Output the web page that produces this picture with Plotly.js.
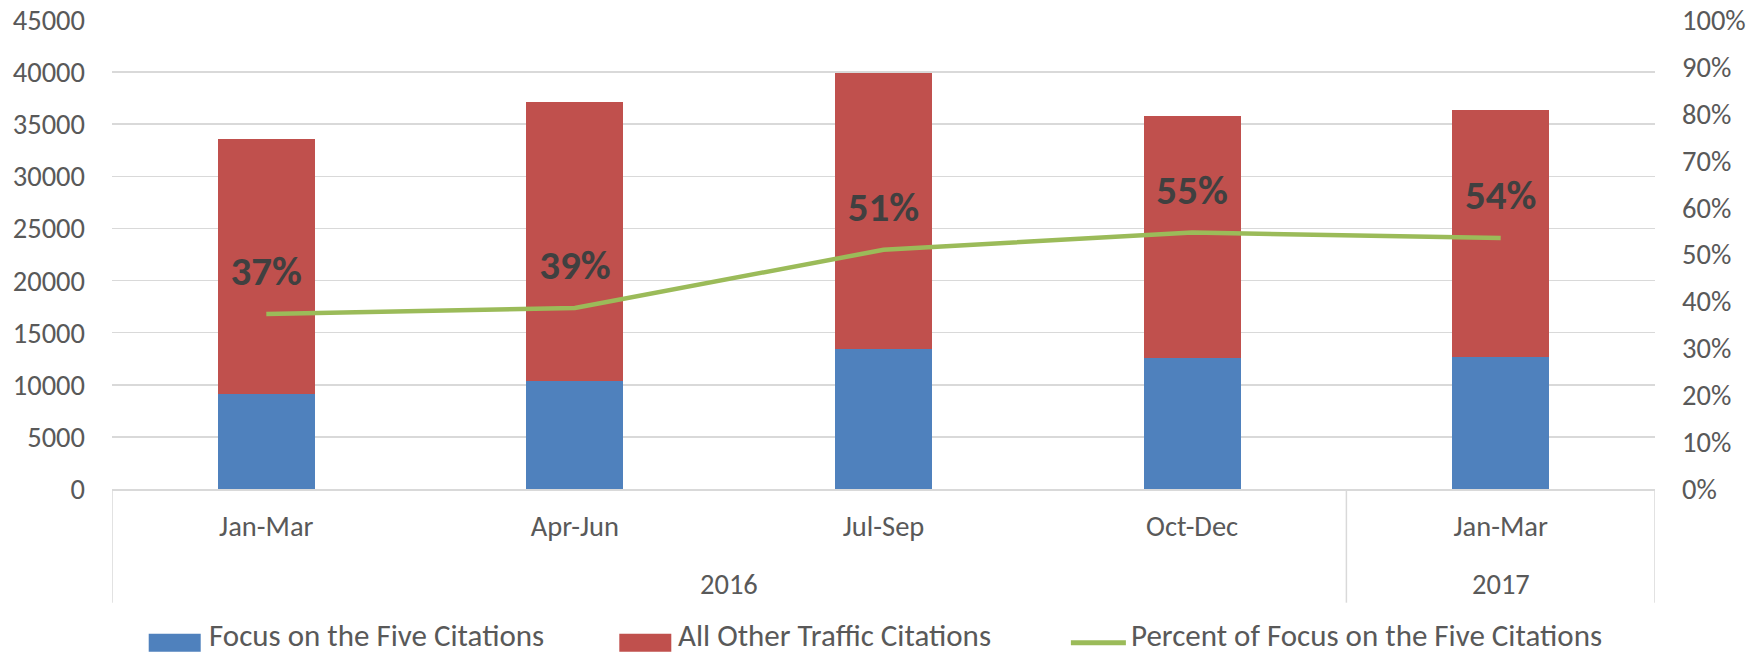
<!DOCTYPE html>
<html>
<head>
<meta charset="utf-8">
<script src="https://cdn.plot.ly/plotly-3.0.1.min.js"></script>
<style>html,body{margin:0;padding:0;background:#fff;}#chart{width:1763px;height:657px;}</style>
</head>
<body>
<div id="chart"></div>
<script>
const years = ["2016", "2016", "2016", "2016", "2017"];
const quarters = ["Jan-Mar", "Apr-Jun", "Jul-Sep", "Oct-Dec", "Jan-Mar"];
const focusCitations = [9115, 10324, 13433, 12569, 12665];
const otherCitations = [24495, 26770, 26481, 23182, 23729];
const percentFocus = [0.373, 0.386, 0.510, 0.547, 0.535];
const percentLabels = ["37%", "39%", "51%", "55%", "54%"];
const seriesNames = ["Focus on the Five Citations", "All Other Traffic Citations", "Percent of Focus on the Five Citations"];

const FONT = "Carlito, Calibri, Lato, sans-serif";
const TICK = "#595959";
const GRID = "#d9d9d9";
const idx = quarters.map((_, i) => i);

const traces = [
  {type: "bar", x: idx, y: focusCitations, name: seriesNames[0], marker: {color: "#4f81bd"}},
  {type: "bar", x: idx, y: otherCitations, name: seriesNames[1], marker: {color: "#c0504d"}},
  {type: "scatter", mode: "lines+markers+text", x: idx, y: percentFocus, yaxis: "y2", name: seriesNames[2],
   line: {color: "#9bbb59", width: 4.5}, marker: {size: 28, color: "rgba(0,0,0,0)"},
   text: percentLabels, textposition: "top center",
   textfont: {family: FONT, size: 41, color: "#404040", weight: 700}, cliponaxis: false}
];

// year groups of the two-level category axis, derived from the data
const groups = [];
years.forEach((y, i) => {
  const g = groups[groups.length - 1];
  if (g && g.year === y) g.end = i; else groups.push({year: y, start: i, end: i});
});

const shapes = [];
const annotations = [];
const dividerBottom = -0.2424;   // paper units below the axis line
const yearY = -0.204;
groups.forEach(g => {
  shapes.push({type: "line", xref: "x", yref: "paper", x0: g.start - 0.5, x1: g.start - 0.5, y0: 0, y1: dividerBottom,
               line: {color: GRID, width: 1.5}});
  annotations.push({xref: "x", yref: "paper", x: (g.start + g.end) / 2, y: yearY, xanchor: "center", yanchor: "middle",
                    showarrow: false, text: g.year, font: {family: FONT, size: 28.5, color: TICK}});
});
const lastG = groups[groups.length - 1];
shapes.push({type: "line", xref: "x", yref: "paper", x0: lastG.end + 0.5, x1: lastG.end + 0.5, y0: 0, y1: dividerBottom,
             line: {color: GRID, width: 1.5}});

// custom legend (Excel-style wide swatches)
const L = 112.3, W = 1542.7;
const px = v => (v - L) / W;
const legY = -0.3277;
const legTextBottom = -0.357;
const legendColors = ["#4f81bd", "#c0504d"];
const legendStarts = [149, 619.5, 1071];
[0, 1].forEach(i => shapes.push({type: "rect", xref: "paper", yref: "paper", xsizemode: "pixel", ysizemode: "pixel",
  xanchor: px(legendStarts[i]), yanchor: legY, x0: 0, x1: 52, y0: -9, y1: 9, fillcolor: legendColors[i], line: {width: 0}}));
shapes.push({type: "line", xref: "paper", yref: "paper", xsizemode: "pixel", ysizemode: "pixel",
  xanchor: px(legendStarts[2]), yanchor: legY, x0: 0, x1: 55, y0: 0, y1: 0, line: {color: "#9bbb59", width: 5}});
const legendTextX = [207, 676, 1129];
seriesNames.forEach((n, i) => annotations.push({xref: "paper", yref: "paper", x: px(legendTextX[i]), y: legTextBottom,
  xanchor: "left", yanchor: "bottom", showarrow: false, text: n, font: {family: FONT, size: 31, color: TICK}}));

const layout = {
  width: 1763, height: 657,
  margin: {l: 112, r: 108, t: 20, b: 168},
  paper_bgcolor: "#fff", plot_bgcolor: "#fff",
  barmode: "stack", bargap: 0.686,
  showlegend: false,
  font: {family: FONT, color: TICK, size: 28.5},
  xaxis: {
    type: "linear", range: [-0.5, quarters.length - 0.5], tickvals: idx, ticktext: quarters,
    showline: true, linecolor: GRID, linewidth: 1.5,
    showgrid: false, zeroline: false, ticks: "", ticklabelstandoff: 11,
    tickfont: {family: FONT, size: 28.5, color: TICK}
  },
  yaxis: {
    range: [0, 45000], dtick: 5000, tick0: 0, tickformat: "d", showgrid: true, gridcolor: GRID, gridwidth: 1.5,
    zeroline: false, showline: false, ticks: "", ticklabelstandoff: 26,
    tickfont: {family: FONT, size: 28.5, color: TICK}
  },
  yaxis2: {
    overlaying: "y", side: "right", range: [0, 1], dtick: 0.1, tick0: 0, tickformat: ".0%",
    showgrid: false, zeroline: false, showline: false, ticks: "", ticklabelstandoff: 26,
    tickfont: {family: FONT, size: 28.5, color: TICK}
  },
  shapes: shapes,
  annotations: annotations
};

Plotly.newPlot("chart", traces, layout, {displayModeBar: false, staticPlot: true});
</script>
</body>
</html>
